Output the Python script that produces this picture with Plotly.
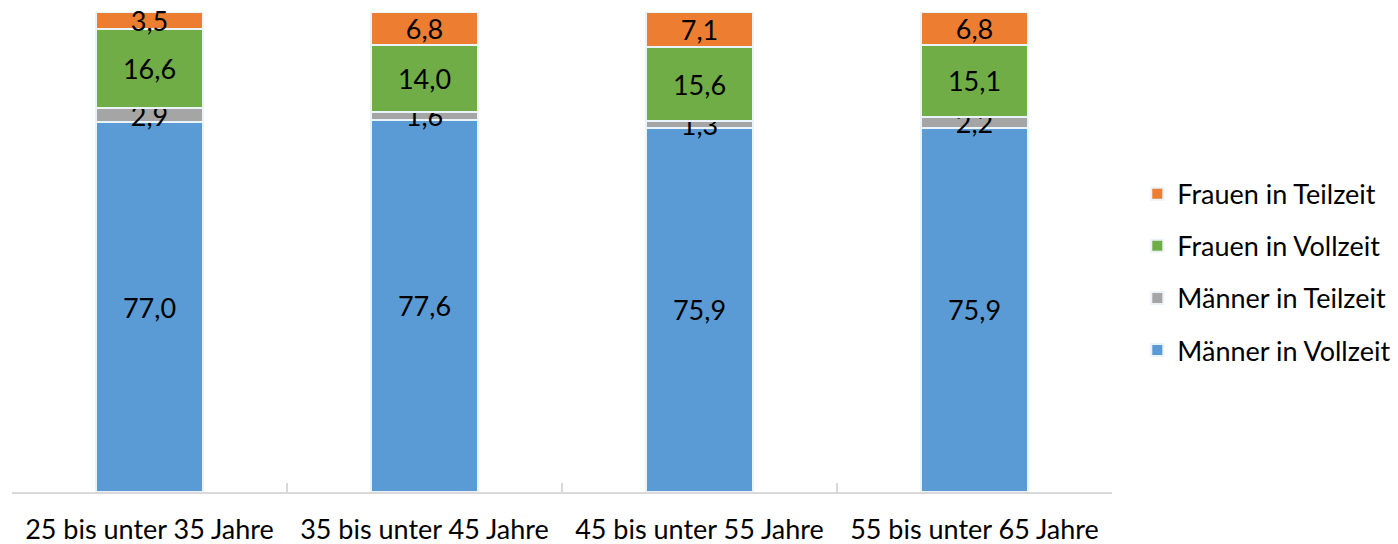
import plotly.graph_objects as go

categories = ["25 bis unter 35 Jahre", "35 bis unter 45 Jahre", "45 bis unter 55 Jahre", "55 bis unter 65 Jahre"]
maenner_vollzeit = [77.0, 77.6, 75.9, 75.9]
maenner_teilzeit = [2.9, 1.6, 1.3, 2.2]
frauen_vollzeit = [16.6, 14.0, 15.6, 15.1]
frauen_teilzeit = [3.5, 6.8, 7.1, 6.8]

series = [
    ("Männer in Vollzeit", maenner_vollzeit, "#5B9BD5"),
    ("Männer in Teilzeit", maenner_teilzeit, "#A5A5A5"),
    ("Frauen in Vollzeit", frauen_vollzeit, "#70AD47"),
    ("Frauen in Teilzeit", frauen_teilzeit, "#ED7D31"),
]

FONT = "Lato"
FS = 27
fig = go.Figure()
for i, (name, vals, color) in enumerate(series):
    fig.add_trace(go.Bar(
        x=categories, y=vals, name=name,
        marker=dict(color=color, line=dict(color="#EAF2FA", width=2)),
        text=vals, texttemplate="%{y:.1f}", textposition="inside",
        insidetextanchor="middle",
        textfont=dict(family=FONT, size=FS, color="black"),
        legendgroup=name, legendrank=len(series) - i,
        cliponaxis=False,
    ))

fig.update_layout(
    barmode="stack",
    bargap=0.61,
    separators=",.",
    width=1390, height=536,
    margin=dict(l=4, r=286, t=4, b=52, autoexpand=False),
    plot_bgcolor="white", paper_bgcolor="white",
    font=dict(family=FONT, size=FS, color="black"),
    uniformtext=dict(minsize=FS, mode="show"),
    showlegend=True,
    legend=dict(
        x=1.023, y=0.458, xanchor="left", yanchor="middle",
        traceorder="grouped", tracegroupgap=14,
        font=dict(family=FONT, size=FS, color="black"),
        itemwidth=30,
    ),
    xaxis=dict(
        showline=True, linecolor="#D9D9D9", linewidth=2,
        ticks="inside", tickson="boundaries", ticklen=9, tickcolor="#D9D9D9", tickwidth=2,
        showgrid=False, ticklabelstandoff=13, automargin=False,
        tickfont=dict(family=FONT, size=FS, color="black"),
    ),
    yaxis=dict(range=[0, 100], visible=False, showgrid=False, zeroline=False),
)

fig.write_html("out.html")
